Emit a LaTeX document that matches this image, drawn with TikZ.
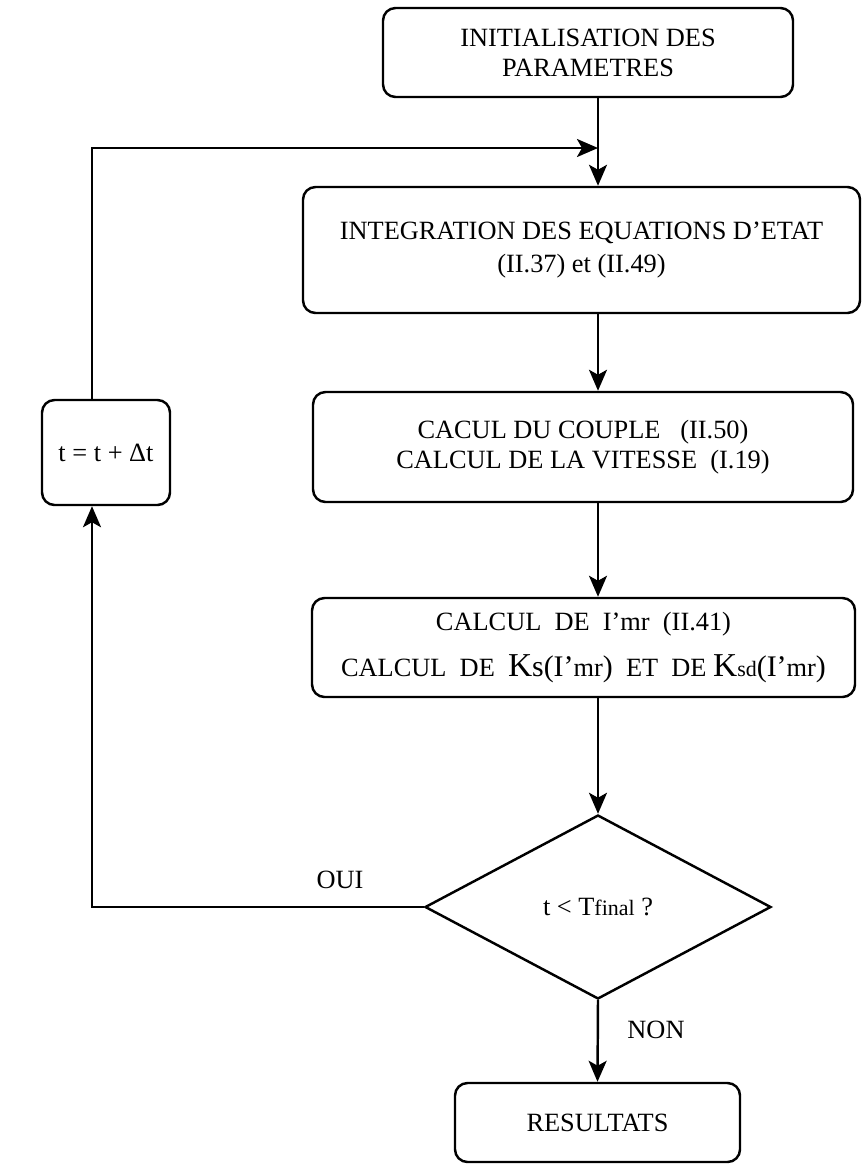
\documentclass[tikz,border=0pt]{standalone}
\usepackage{fontspec}
\setmainfont{Liberation Serif}
\usetikzlibrary{arrows.meta,shapes.geometric,positioning}
\newcommand{\bigk}{\fontsize{19}{19}\selectfont}
\newcommand{\midk}{\fontsize{17}{17}\selectfont}
\newcommand{\smallk}{\fontsize{12.5}{12.5}\selectfont}
\tikzstyle{arrow} = [line width=1.4pt,-{Stealth[length=4.2mm,width=3.6mm,inset=1mm]}]
\tikzstyle{process} = [rectangle, rounded corners=0.25cm, draw, line width=1.4pt, text centered, align=center, inner sep=0pt]
\tikzstyle{decision} = [diamond, draw, line width=1.4pt, inner sep=0pt, text centered]

\begin{document}
\begin{tikzpicture}[font=\fontsize{15}{17}\selectfont]
    \useasboundingbox (0,0) rectangle (17.36,-23.38);
    \coordinate (col) at (11.96,0);

    % Main chain
    \node[process, minimum width=8.2cm, minimum height=1.78cm] (init) at (11.76,-1.05) {INITIALISATION DES\\PARAMETRES};
    \node[process, minimum width=11.14cm, minimum height=2.52cm, font=\fontsize{15}{19}\selectfont] (integ) at (11.63,-5.0) {INTEGRATION DES EQUATIONS D'ETAT\\(II.37) et (II.49)};
    \node[process, minimum width=10.8cm, minimum height=2.2cm] (couple) at (11.66,-8.94) {CACUL DU COUPLE \ \ (II.50)\\CALCUL DE LA VITESSE \ (I.19)};
    \node[process, minimum width=10.86cm, minimum height=1.98cm] (imr) at (11.67,-12.95) {CALCUL \ DE \ I'mr \ (II.41)\\[0.32cm]CALCUL \ DE \ {\bigk K}{\midk s(I'}mr{\midk )} \ ET \ DE {\bigk K}{\smallk sd}{\midk (I'}mr{\midk )}};
    \node[decision, minimum width=6.92cm, minimum height=3.68cm] (test) at (11.96,-18.14) {t < T{\smallk final} ?};
    \node[process, minimum width=5.7cm, minimum height=1.58cm] (result) at (11.95,-22.45) {RESULTATS};

    % Time step
    \node[process, minimum width=2.56cm, minimum height=2.1cm] (tstep) at (2.12,-9.05) {t = t + Δt};
    \coordinate (loop) at (1.84,-2.96);
    \coordinate (join) at (11.96,-2.96);

    % Connections
    \draw[arrow] (init.south -| col) -- (integ.north -| col);
    \draw[arrow] (integ.south -| col) -- (couple.north -| col);
    \draw[arrow] (couple.south -| col) -- (imr.north -| col);
    \draw[arrow] (imr.south -| col) -- (test.north);
    \draw[arrow] (test.south) -- (result.north);
    \draw[arrow] (test.west) -| (tstep.south -| loop);
    \draw[arrow] (tstep.north -| loop) -- (loop) -- (join);

    % Branch labels
    \node (oui) at (6.8,-17.6) {OUI};
    \node (non) at (13.12,-20.6) {NON};
\end{tikzpicture}
\end{document}
